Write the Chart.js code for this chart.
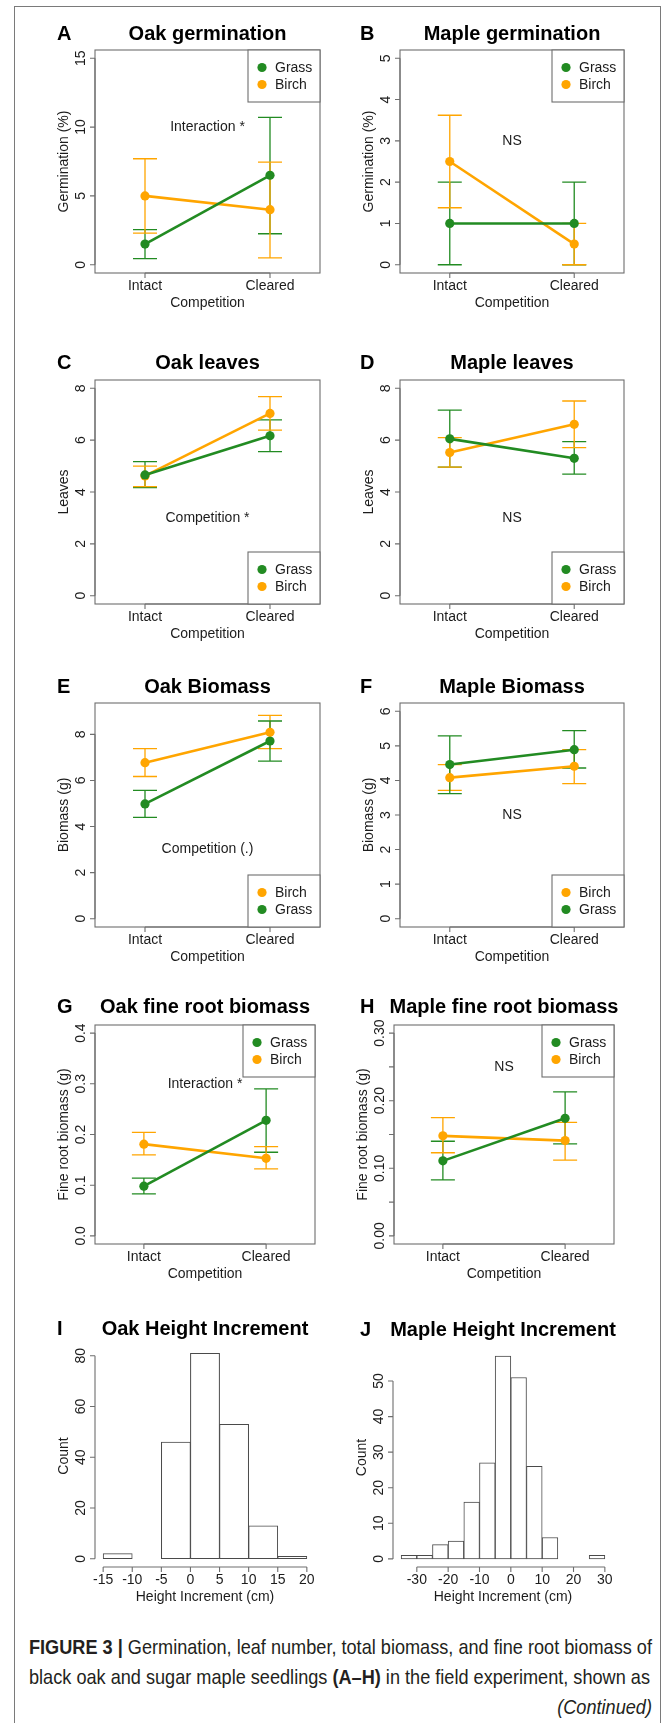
<!DOCTYPE html>
<html>
<head>
<title>Figure 3 - oak and maple seedlings</title>
<script src="https://cdn.jsdelivr.net/npm/chart.js@4.4.0/dist/chart.umd.min.js"></script>
<style>
body { margin: 0; background: #fff; }
#page { position: relative; width: 669px; height: 1723px; overflow: hidden; background: #fff; }
#frame { position: absolute; left: 14px; top: 6px; width: 645px; height: 1740px; border: 1px solid #7a7a7a; }
canvas { position: absolute; }
#caption { position: absolute; left: 29px; top: 1632px; color: #231f20; transform-origin: 0 0;
  font-family: "Liberation Sans Narrow", "Liberation Sans", Arial, sans-serif; font-size: 21px; line-height: 30px; }
#caption div { white-space: nowrap; }
#caption span { display: inline-block; }
</style>
</head>
<body>
<div id="page">
  <div id="frame"></div>
  <div id="caption">
    <div><span id="cap1"><b>FIGURE 3 |</b> Germination, leaf number, total biomass, and fine root biomass of</span></div>
    <div>black oak and sugar maple seedlings <b>(A–H)</b> in the field experiment, shown as</div>
    <div style="text-align:right"><i>(Continued)</i></div>
  </div>
</div>
<script>
// treatment positions on the x axis
var groups = [1, 2];
var groupLabels = ['Intact', 'Cleared'];

// A  Oak germination (%)
var aGrass = [1.5, 6.5], aGrassLo = [0.45, 2.25], aGrassHi = [2.55, 10.7];
var aBirch = [5.0, 4.0], aBirchLo = [2.3, 0.5], aBirchHi = [7.7, 7.45];
// B  Maple germination (%)
var bGrass = [1.0, 1.0], bGrassLo = [0, 0], bGrassHi = [2.0, 2.0];
var bBirch = [2.5, 0.5], bBirchLo = [1.38, 0], bBirchHi = [3.62, 1.0];
// C  Oak leaves
var cGrass = [4.66, 6.17], cGrassLo = [4.17, 5.56], cGrassHi = [5.17, 6.78];
var cBirch = [4.62, 7.03], cBirchLo = [4.21, 6.39], cBirchHi = [5.0, 7.68];
// D  Maple leaves
var dGrass = [6.05, 5.30], dGrassLo = [4.96, 4.69], dGrassHi = [7.16, 5.94];
var dBirch = [5.52, 6.61], dBirchLo = [4.96, 5.71], dBirchHi = [6.10, 7.51];
// E  Oak biomass (g)
var eBirch = [6.77, 8.09], eBirchLo = [6.17, 7.38], eBirchHi = [7.38, 8.82];
var eGrass = [4.98, 7.71], eGrassLo = [4.40, 6.84], eGrassHi = [5.57, 8.58];
// F  Maple biomass (g)
var fBirch = [4.08, 4.41], fBirchLo = [3.71, 3.91], fBirchHi = [4.46, 4.89];
var fGrass = [4.46, 4.89], fGrassLo = [3.62, 4.36], fGrassHi = [5.29, 5.44];
// G  Oak fine root biomass (g)
var gGrass = [0.098, 0.228], gGrassLo = [0.083, 0.165], gGrassHi = [0.114, 0.290];
var gBirch = [0.181, 0.153], gBirchLo = [0.160, 0.132], gBirchHi = [0.204, 0.176];
// H  Maple fine root biomass (g)
var hGrass = [0.111, 0.174], hGrassLo = [0.083, 0.136], hGrassHi = [0.140, 0.213];
var hBirch = [0.148, 0.141], hBirchLo = [0.123, 0.112], hBirchHi = [0.175, 0.168];

// I, J  height increment histograms (bin centres, counts, bin edges)
var oakBins = [-12.5, -7.5, -2.5, 2.5, 7.5, 12.5, 17.5];
var oakCounts = [2, 0, 46, 81, 53, 13, 1];
var oakEdges = [-15, -10, -5, 0, 5, 10, 15, 20];
var mapleBins = [-32.5, -27.5, -22.5, -17.5, -12.5, -7.5, -2.5, 2.5, 7.5, 12.5, 17.5, 22.5, 27.5];
var mapleCounts = [1, 1, 4, 5, 16, 27, 57, 51, 26, 6, 0, 0, 1];
var mapleEdges = [-35, -30, -25, -20, -15, -10, -5, 0, 5, 10, 15, 20, 25, 30];
var mapleXTicks = [-30, -20, -10, 0, 10, 20, 30];

// y tick values
var oakGermTicks = [0, 5, 10, 15];
var mapleGermTicks = [0, 1, 2, 3, 4, 5];
var leafTicks = [0, 2, 4, 6, 8];
var oakMassTicks = [0, 2, 4, 6, 8];
var mapleMassTicks = [0, 1, 2, 3, 4, 5, 6];
var oakRootTicks = [0, 0.1, 0.2, 0.3, 0.4];
var oakRootLabels = ['0.0', '0.1', '0.2', '0.3', '0.4'];
var mapleRootTicks = [0, 0.05, 0.10, 0.15, 0.20, 0.25, 0.30];
var mapleRootLabels = ['0.00', '', '0.10', '', '0.20', '', '0.30'];
var oakHistY = [0, 20, 40, 60, 80];
var mapleHistY = [0, 10, 20, 30, 40, 50];

var green = '#228B22', orange = '#FFA500';
var axisCol = '#6e6e6e', textCol = '#1c1c1c', barLine = '#4a4a4a';
var fam = '"Liberation Sans", Arial, Helvetica, sans-serif';

function grass(m, lo, hi) { return { name: 'Grass', color: green, mean: m, lo: lo, hi: hi }; }
function birch(m, lo, hi) { return { name: 'Birch', color: orange, mean: m, lo: lo, hi: hi }; }

// canvas cells: [left, top, width, height]; plot: [left, top, right, bottom] (page px)
var panels = [
  { id: 'A', title: 'Oak germination', cell: [0, 0, 335, 330], plot: [95, 50, 320, 273], titleY: 40,
    y: [-0.6, 15.6], yTicks: oakGermTicks, yTitle: 'Germination (%)', note: 'Interaction *', noteY: 10, legend: 'top',
    series: [grass(aGrass, aGrassLo, aGrassHi), birch(aBirch, aBirchLo, aBirchHi)] },
  { id: 'B', title: 'Maple germination', cell: [335, 0, 334, 330], plot: [400, 50, 624, 273], titleY: 40,
    y: [-0.2, 5.2], yTicks: mapleGermTicks, yTitle: 'Germination (%)', note: 'NS', noteY: 3, legend: 'top',
    series: [grass(bGrass, bGrassLo, bGrassHi), birch(bBirch, bBirchLo, bBirchHi)] },
  { id: 'C', title: 'Oak leaves', cell: [0, 330, 335, 330], plot: [95, 380, 320, 604], titleY: 369,
    y: [-0.32, 8.32], yTicks: leafTicks, yTitle: 'Leaves', note: 'Competition *', noteY: 3, legend: 'bottom',
    series: [grass(cGrass, cGrassLo, cGrassHi), birch(cBirch, cBirchLo, cBirchHi)] },
  { id: 'D', title: 'Maple leaves', cell: [335, 330, 334, 330], plot: [400, 380, 624, 604], titleY: 369,
    y: [-0.32, 8.32], yTicks: leafTicks, yTitle: 'Leaves', note: 'NS', noteY: 3, legend: 'bottom',
    series: [grass(dGrass, dGrassLo, dGrassHi), birch(dBirch, dBirchLo, dBirchHi)] },
  { id: 'E', title: 'Oak Biomass', cell: [0, 660, 335, 330], plot: [95, 703, 320, 927], titleY: 693,
    y: [-0.36, 9.36], yTicks: oakMassTicks, yTitle: 'Biomass (g)', note: 'Competition (.)', noteY: 3, legend: 'bottom',
    series: [birch(eBirch, eBirchLo, eBirchHi), grass(eGrass, eGrassLo, eGrassHi)] },
  { id: 'F', title: 'Maple Biomass', cell: [335, 660, 334, 330], plot: [400, 703, 624, 927], titleY: 693,
    y: [-0.24, 6.24], yTicks: mapleMassTicks, yTitle: 'Biomass (g)', note: 'NS', noteY: 3, legend: 'bottom',
    series: [birch(fBirch, fBirchLo, fBirchHi), grass(fGrass, fGrassLo, fGrassHi)] },
  { id: 'G', title: 'Oak fine root biomass', cell: [0, 990, 335, 330], plot: [95, 1025, 315, 1244], titleY: 1013,
    y: [-0.016, 0.416], yTicks: oakRootTicks, yLabels: oakRootLabels, yTitle: 'Fine root biomass (g)',
    note: 'Interaction *', noteY: 0.3, legend: 'top',
    series: [grass(gGrass, gGrassLo, gGrassHi), birch(gBirch, gBirchLo, gBirchHi)] },
  { id: 'H', title: 'Maple fine root biomass', cell: [335, 990, 334, 330], plot: [394, 1025, 614, 1244], titleY: 1013,
    y: [-0.012, 0.312], yTicks: mapleRootTicks, yLabels: mapleRootLabels, yTitle: 'Fine root biomass (g)',
    note: 'NS', noteY: 0.25, legend: 'top',
    series: [grass(hGrass, hGrassLo, hGrassHi), birch(hBirch, hBirchLo, hBirchHi)] },
  { id: 'I', title: 'Oak Height Increment', cell: [0, 1320, 335, 290], plot: [95, 1345, 315, 1567], titleY: 1335,
    hist: true, x: [-16.4, 21.4], y: [-3.24, 84.24], bins: oakBins, counts: oakCounts, edges: oakEdges,
    xTicks: oakEdges, yTicks: oakHistY, yTitle: 'Count', xTitle: 'Height Increment (cm)' },
  { id: 'J', title: 'Maple Height Increment', cell: [335, 1320, 334, 290], plot: [393, 1348, 613, 1567], titleY: 1336,
    hist: true, x: [-37.6, 32.6], y: [-2.28, 59.28], bins: mapleBins, counts: mapleCounts, edges: mapleEdges,
    xTicks: mapleXTicks, yTicks: mapleHistY, yTitle: 'Count', xTitle: 'Height Increment (cm)' }
];

function rotText(ctx, s, x, y) {
  ctx.save();
  ctx.translate(x, y);
  ctx.rotate(-Math.PI / 2);
  ctx.fillText(s, 0, 0);
  ctx.restore();
}

// R-style axes, box, titles, legend and error bars
function rPlot(p) {
  var cx = p.cell[0], cy = p.cell[1];
  return {
    id: 'rplot' + p.id,
    beforeDatasetsDraw: function (chart) {
      if (p.hist) return;
      var ctx = chart.ctx, xs = chart.scales.x, ys = chart.scales.y;
      chart.data.datasets.forEach(function (ds) {
        ctx.save();
        ctx.strokeStyle = ds.borderColor;
        ctx.lineWidth = 1.3;
        ds.data.forEach(function (pt, i) {
          var x = xs.getPixelForValue(pt.x);
          var lo = ys.getPixelForValue(ds.low[i]), hi = ys.getPixelForValue(ds.high[i]);
          ctx.beginPath();
          ctx.moveTo(x, lo); ctx.lineTo(x, hi);
          ctx.moveTo(x - 12, lo); ctx.lineTo(x + 12, lo);
          ctx.moveTo(x - 12, hi); ctx.lineTo(x + 12, hi);
          ctx.stroke();
        });
        ctx.restore();
      });
    },
    afterDraw: function (chart) {
      var ctx = chart.ctx, a = chart.chartArea, xs = chart.scales.x, ys = chart.scales.y;
      var xt = p.hist ? p.xTicks : groups;
      var xl = p.hist ? p.xTicks.map(String) : groupLabels;
      var yt = p.yTicks;
      ctx.save();
      ctx.strokeStyle = axisCol;
      ctx.lineWidth = 1.1;
      if (!p.hist) ctx.strokeRect(a.left, a.top, a.right - a.left, a.bottom - a.top);

      ctx.beginPath();
      ctx.moveTo(a.left, ys.getPixelForValue(yt[0]));
      ctx.lineTo(a.left, ys.getPixelForValue(yt[yt.length - 1]));
      yt.forEach(function (v) {
        var y = ys.getPixelForValue(v);
        ctx.moveTo(a.left, y); ctx.lineTo(a.left - 5, y);
      });
      ctx.moveTo(xs.getPixelForValue(xt[0]), a.bottom);
      ctx.lineTo(xs.getPixelForValue(xt[xt.length - 1]), a.bottom);
      xt.forEach(function (v) {
        var x = xs.getPixelForValue(v);
        ctx.moveTo(x, a.bottom); ctx.lineTo(x, a.bottom + 5);
      });
      ctx.stroke();

      ctx.fillStyle = textCol;
      ctx.font = '14px ' + fam;
      ctx.textAlign = 'center';
      ctx.textBaseline = 'alphabetic';
      yt.forEach(function (v, i) {
        var lab = p.yLabels ? p.yLabels[i] : String(v);
        if (lab) rotText(ctx, lab, a.left - 10, ys.getPixelForValue(v));
      });
      rotText(ctx, p.yTitle, a.left - 27, (a.top + a.bottom) / 2);
      xt.forEach(function (v, i) {
        ctx.fillText(xl[i], xs.getPixelForValue(v), a.bottom + 17);
      });
      ctx.fillText(p.xTitle || 'Competition', (a.left + a.right) / 2, a.bottom + 34);

      if (p.note) {
        ctx.textBaseline = 'middle';
        ctx.fillText(p.note, xs.getPixelForValue(1.5), ys.getPixelForValue(p.noteY));
      }

      ctx.fillStyle = '#000';
      ctx.font = 'bold 20px ' + fam;
      ctx.textBaseline = 'alphabetic';
      ctx.fillText(p.title, (a.left + a.right) / 2, p.titleY - cy);
      ctx.textAlign = 'left';
      ctx.fillText(p.id, (cx === 0 ? 57 : 360) - cx, p.titleY - cy);

      if (p.legend) {
        var w = 72, h = 52;
        var bx = a.right - w, by = p.legend === 'top' ? a.top : a.bottom - h;
        ctx.fillStyle = '#fff';
        ctx.fillRect(bx, by, w, h);
        ctx.strokeRect(bx, by, w, h);
        ctx.font = '14px ' + fam;
        ctx.textBaseline = 'middle';
        p.series.forEach(function (s, i) {
          var yy = by + 17.5 + i * 17;
          ctx.fillStyle = s.color;
          ctx.beginPath();
          ctx.arc(bx + 14, yy, 4.6, 0, Math.PI * 2);
          ctx.fill();
          ctx.fillStyle = textCol;
          ctx.fillText(s.name, bx + 27, yy + 0.5);
        });
      }
      ctx.restore();
    }
  };
}

var page = document.getElementById('page');
panels.forEach(function (p) {
  var cv = document.createElement('canvas');
  cv.width = p.cell[2];
  cv.height = p.cell[3];
  cv.style.left = p.cell[0] + 'px';
  cv.style.top = p.cell[1] + 'px';
  page.appendChild(cv);

  var pad = {
    left: p.plot[0] - p.cell[0],
    top: p.plot[1] - p.cell[1],
    right: p.cell[0] + p.cell[2] - p.plot[2],
    bottom: p.cell[1] + p.cell[3] - p.plot[3]
  };
  var common = {
    responsive: false, animation: false, devicePixelRatio: 1, events: [],
    layout: { padding: pad },
    plugins: { legend: { display: false }, tooltip: { enabled: false } }
  };

  if (p.hist) {
    common.scales = {
      x: { type: 'linear', display: false, offset: false, min: p.x[0], max: p.x[1],
           afterBuildTicks: function (s) { s.ticks = p.edges.map(function (v) { return { value: v }; }); } },
      y: { type: 'linear', display: false, min: p.y[0], max: p.y[1] }
    };
    new Chart(cv, {
      type: 'bar',
      data: { datasets: [{
        data: p.bins.map(function (b, i) { return { x: b, y: p.counts[i] }; }),
        backgroundColor: '#fff', borderColor: barLine, borderWidth: 1, borderSkipped: false,
        categoryPercentage: 1, barPercentage: 1
      }] },
      options: common,
      plugins: [rPlot(p)]
    });
  } else {
    common.scales = {
      x: { type: 'linear', display: false, min: 0.6, max: 2.4 },
      y: { type: 'linear', display: false, min: p.y[0], max: p.y[1] }
    };
    new Chart(cv, {
      type: 'line',
      data: { datasets: p.series.map(function (s) {
        return {
          label: s.name,
          data: groups.map(function (g, i) { return { x: g, y: s.mean[i] }; }),
          low: s.lo, high: s.hi,
          borderColor: s.color, backgroundColor: s.color, borderWidth: 2.6,
          pointRadius: 4.6, pointBorderWidth: 0, pointBackgroundColor: s.color, tension: 0
        };
      }) },
      options: common,
      plugins: [rPlot(p)]
    });
  }
});

// condensed caption: squeeze the text block horizontally so line 1 spans 623px
var cap = document.getElementById('caption');
var w1 = document.getElementById('cap1').getBoundingClientRect().width;
if (w1 > 0) {
  cap.style.width = w1 + 'px';
  cap.style.transform = 'scaleX(' + (623 / w1).toFixed(4) + ')';
}
</script>
</body>
</html>
